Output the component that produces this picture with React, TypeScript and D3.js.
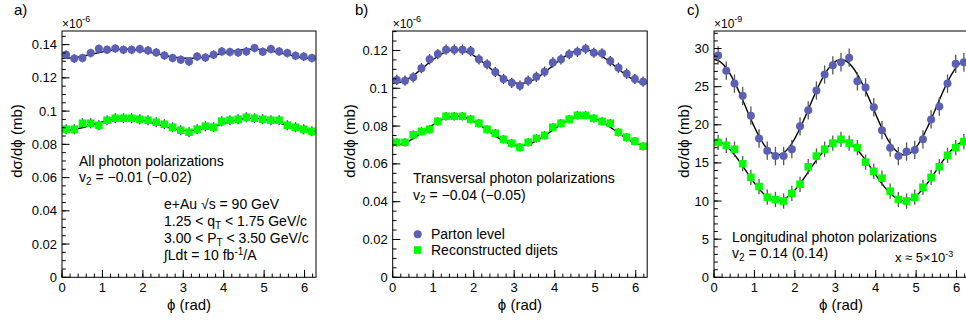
import React from 'react';
import * as d3 from 'd3';

// phi bins (31 bins over [0, 2pi])
const nBins = 31;
const xTicks = [0, 1, 2, 3, 4, 5, 6];

// a) all photon polarizations (x 1e-6 mb)
const aParton = [0.1339, 0.1316, 0.1319, 0.1349, 0.1375, 0.1369, 0.1377, 0.1369, 0.1369, 0.1373, 0.1365, 0.1353, 0.1335, 0.1319, 0.1309, 0.1298, 0.1328, 0.1322, 0.1339, 0.1359, 0.1355, 0.1353, 0.1359, 0.1379, 0.1357, 0.1373, 0.1359, 0.1349, 0.1333, 0.1328, 0.1319];
const aDijets = [0.0891, 0.0891, 0.0927, 0.0927, 0.0915, 0.0945, 0.0957, 0.0957, 0.0957, 0.0951, 0.0945, 0.0933, 0.0921, 0.0903, 0.0885, 0.0873, 0.0891, 0.0909, 0.0903, 0.0939, 0.0945, 0.0951, 0.0963, 0.0957, 0.0951, 0.0945, 0.0945, 0.0915, 0.0903, 0.0891, 0.0879];
const aYTicks = [0, 0.02, 0.04, 0.06, 0.08, 0.1, 0.12, 0.14];

// b) transversal photon polarizations (x 1e-6 mb)
const bParton = [0.1044, 0.1040, 0.1058, 0.1106, 0.1153, 0.1181, 0.1204, 0.1204, 0.1204, 0.1197, 0.1153, 0.1127, 0.1086, 0.1049, 0.1029, 0.1014, 0.1040, 0.1061, 0.1088, 0.1137, 0.1153, 0.1180, 0.1193, 0.1209, 0.1188, 0.1185, 0.1144, 0.1109, 0.1077, 0.1049, 0.1035];
const bDijets = [0.0714, 0.0714, 0.0754, 0.0772, 0.0783, 0.0825, 0.0852, 0.0852, 0.0852, 0.0836, 0.0815, 0.0783, 0.0762, 0.0730, 0.0709, 0.0688, 0.0714, 0.0735, 0.0751, 0.0794, 0.0815, 0.0836, 0.0857, 0.0857, 0.0841, 0.0825, 0.0815, 0.0767, 0.0741, 0.0720, 0.0693];
const bYTicks = [0, 0.02, 0.04, 0.06, 0.08, 0.1, 0.12];

// c) longitudinal photon polarizations (x 1e-9 mb)
const cParton = [29.1, 27.1, 25.4, 23.8, 21.2, 18.2, 16.6, 15.9, 15.9, 16.8, 19.8, 21.9, 24.5, 26.6, 27.8, 28.2, 28.8, 25.7, 24.9, 22.3, 19.3, 17.0, 15.9, 16.5, 16.7, 18.1, 20.7, 22.4, 25.4, 28.0, 28.2];
const cDijets = [17.7, 17.3, 16.8, 14.9, 13.1, 11.9, 10.5, 10.2, 10.0, 11.0, 12.2, 14.5, 15.9, 16.8, 17.6, 18.1, 17.6, 17.0, 15.1, 13.9, 13.0, 11.3, 10.2, 10.0, 10.5, 11.8, 13.1, 14.5, 16.0, 17.0, 17.8];
const cYTicks = [0, 5, 10, 15, 20, 25, 30];

// fit: N * (1 + 2 v2 cos 2phi)   [parton, dijets]
const aFit = [{ n: 0.1345, v2: -0.0102 }, { n: 0.0920, v2: -0.020 }];
const bFit = [{ n: 0.1115, v2: -0.040 }, { n: 0.0775, v2: -0.050 }];
const cFit = [{ n: 22.3, v2: 0.14 }, { n: 14.0, v2: 0.14 }];

// statistical errors per series [parton, dijets]
const aErr = [0.0026, 0.0030];
const bErr = [0.0027, 0.0022];
const cErr = [1.2, 1.0];

const FONT = "'Liberation Sans', Arial, Helvetica, sans-serif";
const BLUE = '#5b60b5';
const GREEN = '#00ff00';
const TOP = 31;
const BOTTOM = 277.3;
const TWO_PI = Math.PI * 2;
const PHI = 'ϕ';

interface PanelCfg {
    label: string;
    labelX: number;
    x0: number;
    x1: number;
    yMax: number;
    yTicks: number[];
    yMinor: number;
    exp: string;
    titleX: number;
    parton: number[];
    dijets: number[];
    fit: { n: number; v2: number }[];
    err: number[];
    errColor: string;
}

const panels: PanelCfg[] = [
    { label: 'a)', labelX: 14, x0: 62, x1: 316, yMax: 0.1482, yTicks: aYTicks, yMinor: 0.005, exp: '-6', titleX: 17, parton: aParton, dijets: aDijets, fit: aFit, err: aErr, errColor: '#2a2ac4' },
    { label: 'b)', labelX: 355, x0: 392.7, x1: 647.2, yMax: 0.1303, yTicks: bYTicks, yMinor: 0.005, exp: '-6', titleX: 350, parton: bParton, dijets: bDijets, fit: bFit, err: bErr, errColor: '#333' },
    { label: 'c)', labelX: 687, x0: 714, x1: 968, yMax: 32.3, yTicks: cYTicks, yMinor: 1, exp: '-9', titleX: 684, parton: cParton, dijets: cDijets, fit: cFit, err: cErr, errColor: '#555' },
];

const fmt = (v: number) => String(+v.toFixed(3));

function Panel({ cfg }: { cfg: PanelCfg }) {
    const x = d3.scaleLinear().domain([0, TWO_PI]).range([cfg.x0, cfg.x1]);
    const y = d3.scaleLinear().domain([0, cfg.yMax]).range([BOTTOM, TOP]);
    const binW = TWO_PI / nBins;
    const centers = d3.range(nBins).map(i => (i + 0.5) * binW);
    const xMinor = d3.range(0, TWO_PI, 0.2);
    const yMinor = d3.range(0, cfg.yMax, cfg.yMinor);
    const fitPhi = d3.range(0, TWO_PI + 1e-9, TWO_PI / 300);

    const fitLine = (f: { n: number; v2: number }) =>
        d3.line<number>()
            .x(p => x(p))
            .y(p => y(f.n * (1 + 2 * f.v2 * Math.cos(2 * p))))(fitPhi) || '';

    const series = [cfg.parton, cfg.dijets];

    return (
        <g>
            <text x={cfg.labelX} y={15} fontSize={15}>{cfg.label}</text>
            {/* exponent */}
            <text x={cfg.x0} y={28} fontSize={12}>
                ×10<tspan dy={-6} fontSize={9}>{cfg.exp}</tspan>
            </text>

            {/* fits */}
            {cfg.fit.map((f, k) => (
                <path key={k} d={fitLine(f)} fill="none" stroke="#000" strokeWidth={1.4} />
            ))}

            {/* error bars */}
            {series.map((vals, k) => (
                <g key={k}>
                    {vals.map((v, i) => (
                        <g key={i}>
                            <line x1={x(centers[i])} x2={x(centers[i])} y1={y(v - cfg.err[k])} y2={y(v + cfg.err[k])}
                                stroke={cfg.errColor} strokeWidth={1.3} />
                            <line x1={x(centers[i] - binW * 0.35)} x2={x(centers[i] + binW * 0.35)} y1={y(v)} y2={y(v)}
                                stroke={k === 0 ? '#8e92d6' : '#66ff66'} strokeWidth={1.5} />
                        </g>
                    ))}
                </g>
            ))}

            {/* markers */}
            {cfg.parton.map((v, i) => (
                <circle key={'p' + i} cx={x(centers[i])} cy={y(v)} r={4} fill={BLUE} />
            ))}
            {cfg.dijets.map((v, i) => (
                <rect key={'d' + i} x={x(centers[i]) - 3.8} y={y(v) - 3.8} width={7.6} height={7.6} fill={GREEN} />
            ))}

            {/* frame */}
            <rect x={cfg.x0} y={TOP} width={cfg.x1 - cfg.x0} height={BOTTOM - TOP} fill="none" stroke="#000" strokeWidth={1} />

            {/* y axis */}
            {yMinor.map((t, i) => (
                <line key={'ym' + i} x1={cfg.x0} x2={cfg.x0 + 3.8} y1={y(t)} y2={y(t)} stroke="#000" />
            ))}
            {cfg.yTicks.map(t => (
                <g key={'y' + t}>
                    <line x1={cfg.x0} x2={cfg.x0 + 7.6} y1={y(t)} y2={y(t)} stroke="#000" />
                    <text x={cfg.x0 - 5} y={y(t) + 4.5} fontSize={13} textAnchor="end">{fmt(t)}</text>
                </g>
            ))}

            {/* x axis */}
            {xMinor.map((t, i) => (
                <line key={'xm' + i} x1={x(t)} x2={x(t)} y1={BOTTOM} y2={BOTTOM - 3.7} stroke="#000" />
            ))}
            {xTicks.map(t => (
                <g key={'x' + t}>
                    <line x1={x(t)} x2={x(t)} y1={BOTTOM} y2={BOTTOM - 7.4} stroke="#000" />
                    <text x={x(t)} y={291.5} fontSize={13} textAnchor="middle">{t}</text>
                </g>
            ))}

            <text x={(cfg.x0 + Math.min(cfg.x1, 966)) / 2 + (cfg.x1 > 966 ? 1 : 0)} y={310} fontSize={15} textAnchor="middle">{PHI} (rad)</text>
            <text transform={`translate(${cfg.titleX + 5},141) rotate(-90)`} fontSize={15} textAnchor="middle">dσ/d{PHI} (mb)</text>
        </g>
    );
}

export default function App() {
    return (
        <svg width={966} height={325} style={{ position: 'absolute', left: 0, top: 0, background: '#fff' }}
            fontFamily={FONT}>
            <rect width={966} height={325} fill="#fff" />
            {panels.map(p => <Panel key={p.label} cfg={p} />)}

            {/* panel a text */}
            <g fontSize={14}>
                <text x={79} y={165.5}>All photon polarizations</text>
                <text x={79} y={182}>v<tspan dy={3} fontSize={10}>2</tspan><tspan dy={-3}> = −0.01 (−0.02)</tspan></text>
                <text x={164} y={209}>e+Au √s = 90 GeV</text>
                <text x={164} y={226}>1.25 &lt; q<tspan dy={3} fontSize={10}>T</tspan><tspan dy={-3}> &lt; 1.75 GeV/c</tspan></text>
                <text x={164} y={243}>3.00 &lt; P<tspan dy={3} fontSize={10}>T</tspan><tspan dy={-3}> &lt; 3.50 GeV/c</tspan></text>
                <text x={164} y={260}>∫Ldt = 10 fb<tspan dy={-5} fontSize={10}>-1</tspan><tspan dy={5}>/A</tspan></text>
            </g>

            {/* panel b text + legend */}
            <g fontSize={14}>
                <text x={413} y={183}>Transversal photon polarizations</text>
                <text x={413} y={200}>v<tspan dy={3} fontSize={10}>2</tspan><tspan dy={-3}> = −0.04 (−0.05)</tspan></text>
                <circle cx={417.7} cy={234.3} r={4} fill={BLUE} />
                <text x={431} y={238.8}>Parton level</text>
                <rect x={417.7 - 3.8} y={250 - 3.8} width={7.6} height={7.6} fill={GREEN} />
                <text x={431} y={254.8}>Reconstructed dijets</text>
            </g>

            {/* panel c text */}
            <g fontSize={14}>
                <text x={732} y={241.5}>Longitudinal photon polarizations</text>
                <text x={732} y={257.5}>v<tspan dy={3} fontSize={10}>2</tspan><tspan dy={-3}> = 0.14 (0.14)</tspan></text>
                <text x={895} y={262} fontSize={13}>x ≈ 5×10<tspan dy={-5} fontSize={9}>-3</tspan></text>
            </g>
        </svg>
    );
}
